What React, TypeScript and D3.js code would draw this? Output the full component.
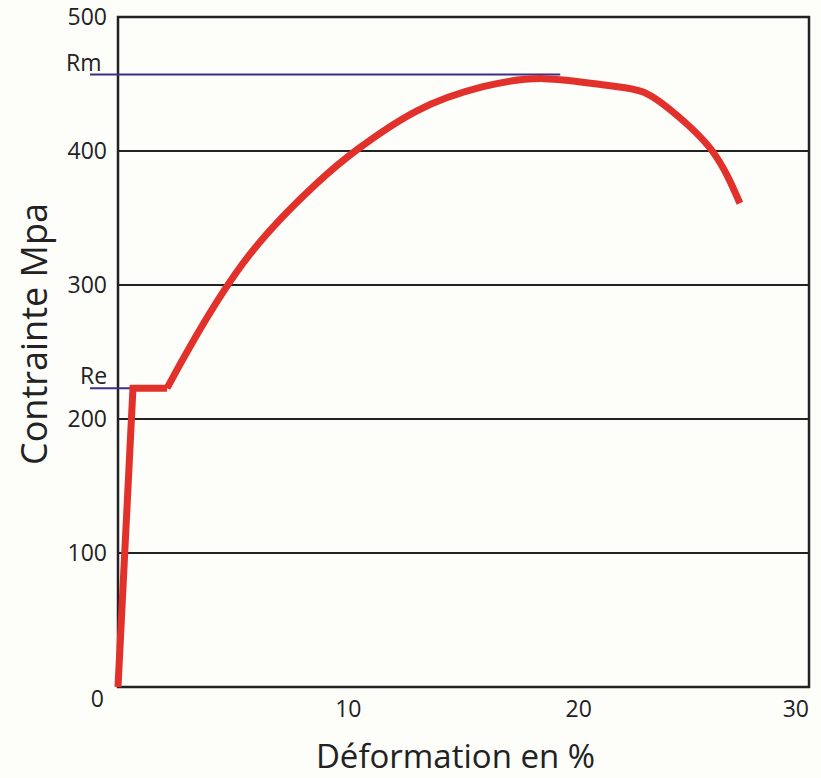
// App.tsx - courbe de traction (contrainte / déformation)
import React, { useRef, useEffect } from "react";
import * as d3 from "d3";

// Déformation (%) et contrainte (MPa)
const elasticStrain = [0, 0.65, 2.13];
const elasticStress = [0, 223, 223];

const hardeningStrain = [2.13, 3.26, 5.73, 8.64, 10.38, 12.98, 15.85, 18.5, 21.2, 22.8, 24.1, 25.8, 27.0];
const hardeningStress = [223, 258, 323, 376, 401, 430, 448, 454, 449, 444, 429, 400, 361];

const yTicks = [0, 100, 200, 300, 400, 500];
const xTicks = [10, 20, 30];

const refNames = ["Rm", "Re"];
const refStress = [457, 223];
const refStrainEnd = [19.2, 0.95];

const red = "#e2302b";
const violet = "#3d2f88";
const ink = "#222";

const App: React.FC = () => {
  const ref = useRef<SVGSVGElement | null>(null);

  useEffect(() => {
    document.body.style.margin = "0";
    if (!ref.current) return;

    const width = 821;
    const height = 778;
    const margin = { left: 118, right: 12, top: 17, bottom: 91 };

    const x = d3.scaleLinear().domain([0, 30]).range([margin.left, width - margin.right]);
    const y = d3.scaleLinear().domain([0, 500]).range([height - margin.bottom, margin.top]);

    const svg = d3.select(ref.current)
      .attr("width", width)
      .attr("height", height)
      .attr("viewBox", [0, 0, width, height])
      .style("display", "block")
      .style("font-family", "'Open Sans', 'Noto Sans', sans-serif");

    svg.append("rect").attr("width", width).attr("height", height).attr("fill", "#fdfdfa");

    // Lignes horizontales de la grille
    svg.append("g")
      .selectAll("line")
      .data(yTicks.filter((d) => d > 0 && d < 500))
      .join("line")
      .attr("x1", x(0))
      .attr("x2", x(30))
      .attr("y1", (d) => y(d))
      .attr("y2", (d) => y(d))
      .attr("stroke", ink)
      .attr("stroke-width", 2);

    // Cadre
    svg.append("rect")
      .attr("x", x(0))
      .attr("y", y(500))
      .attr("width", x(30) - x(0))
      .attr("height", y(0) - y(500))
      .attr("fill", "none")
      .attr("stroke", ink)
      .attr("stroke-width", 2.5);

    // Graduations Y
    svg.append("g")
      .selectAll("text")
      .data(yTicks)
      .join("text")
      .attr("x", (d) => (d === 0 ? 104 : 107))
      .attr("y", (d) => (d === 0 ? y(d) + 12 : y(d)))
      .attr("dy", "0.35em")
      .attr("text-anchor", "end")
      .attr("font-size", 23)
      .attr("fill", ink)
      .text((d) => d);

    // Graduations X
    svg.append("g")
      .selectAll("text")
      .data(xTicks)
      .join("text")
      .attr("x", (d) => x(d))
      .attr("y", y(0) + 22)
      .attr("dy", "0.35em")
      .attr("text-anchor", (d) => (d === 30 ? "end" : "middle"))
      .attr("font-size", 23)
      .attr("fill", ink)
      .text((d) => d);

    // Lignes Rm / Re
    const refs = refNames.map((name, i) => ({ name, stress: refStress[i], end: refStrainEnd[i] }));
    svg.append("g")
      .selectAll("line")
      .data(refs)
      .join("line")
      .attr("x1", 90)
      .attr("x2", (d) => x(d.end))
      .attr("y1", (d) => y(d.stress))
      .attr("y2", (d) => y(d.stress))
      .attr("stroke", violet)
      .attr("stroke-width", 2);

    svg.append("g")
      .selectAll("text")
      .data(refs)
      .join("text")
      .attr("x", (d) => (d.name === "Rm" ? 66 : 80))
      .attr("y", (d) => y(d.stress) - 4)
      .attr("font-size", 23)
      .attr("fill", ink)
      .text((d) => d.name);

    // Courbe
    const elastic: [number, number][] = elasticStrain.map((e, i) => [e, elasticStress[i]]);
    const hardening: [number, number][] = hardeningStrain.map((e, i) => [e, hardeningStress[i]]);

    const straight = d3.line<[number, number]>().x((d) => x(d[0])).y((d) => y(d[1]));
    const smooth = d3.line<[number, number]>().x((d) => x(d[0])).y((d) => y(d[1])).curve(d3.curveNatural);

    svg.append("path")
      .attr("d", straight(elastic))
      .attr("fill", "none")
      .attr("stroke", red)
      .attr("stroke-width", 7)
      .attr("stroke-linejoin", "miter");

    svg.append("path")
      .attr("d", smooth(hardening))
      .attr("fill", "none")
      .attr("stroke", red)
      .attr("stroke-width", 7)
      .attr("stroke-linecap", "butt");

    // Titres des axes
    svg.append("text")
      .attr("x", (x(0) + x(30)) / 2 - 8)
      .attr("y", 768)
      .attr("text-anchor", "middle")
      .attr("font-size", 33)
      .attr("fill", ink)
      .text("Déformation en %");

    svg.append("text")
      .attr("transform", `translate(47,334) rotate(-90)`)
      .attr("text-anchor", "middle")
      .attr("font-size", 36)
      .attr("fill", ink)
      .text("Contrainte Mpa");

    return () => {
      svg.selectAll("*").remove();
    };
  }, []);

  return <svg ref={ref}></svg>;
};

export default App;
